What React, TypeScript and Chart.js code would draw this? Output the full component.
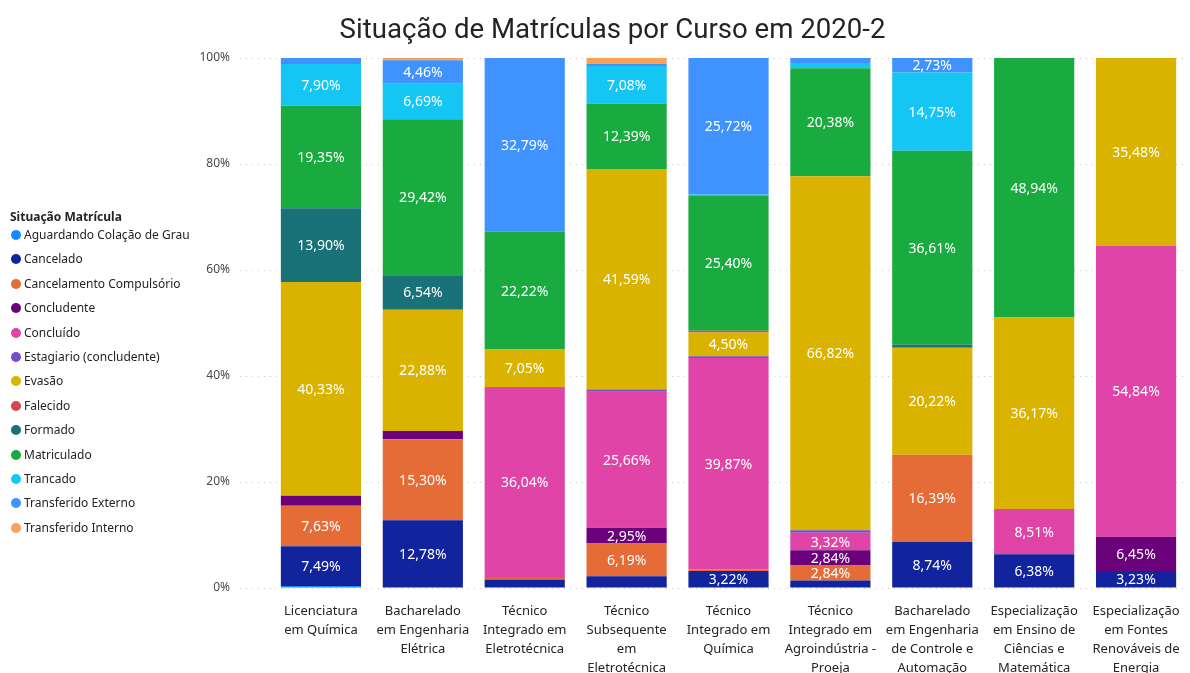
import React, { useEffect, useRef } from "react";
import { Chart, registerables } from "chart.js";

Chart.register(...registerables);

const courseLabels: string[][] = [
  ["Licenciatura", "em Química"],
  ["Bacharelado", "em Engenharia", "Elétrica"],
  ["Técnico", "Integrado em", "Eletrotécnica"],
  ["Técnico", "Subsequente", "em", "Eletrotécnica"],
  ["Técnico", "Integrado em", "Química"],
  ["Técnico", "Integrado em", "Agroindústria -", "Proeja"],
  ["Bacharelado", "em Engenharia", "de Controle e", "Automação"],
  ["Especialização", "em Ensino de", "Ciências e", "Matemática"],
  ["Especialização", "em Fontes", "Renováveis de", "Energia"],
];

const aguardando = [0.38, 0, 0, 0, 0, 0, 0, 0, 0];
const cancelado = [7.49, 12.78, 1.6, 2.21, 3.22, 1.42, 8.74, 6.38, 3.23];
const cancelamentoCompulsorio = [7.63, 15.3, 0.3, 6.19, 0.32, 2.84, 16.39, 0, 0];
const concludente = [1.91, 1.53, 0, 2.95, 0, 2.84, 0, 0, 6.45];
const concluido = [0, 0, 36.04, 25.66, 39.87, 3.32, 0, 8.51, 54.84];
const estagiario = [0, 0, 0, 0.44, 0.32, 0.47, 0, 0, 0];
const evasao = [40.33, 22.88, 7.05, 41.59, 4.5, 66.82, 20.22, 36.17, 35.48];
const falecido = [0, 0, 0, 0, 0.32, 0, 0, 0, 0];
const formado = [13.9, 6.54, 0, 0, 0, 0, 0.55, 0, 0];
const matriculado = [19.35, 29.42, 22.22, 12.39, 25.4, 20.38, 36.61, 48.94, 0];
const trancado = [7.9, 6.69, 0, 7.08, 0.32, 0.95, 14.75, 0, 0];
const transferidoExterno = [1.11, 4.46, 32.79, 0.38, 25.72, 0.95, 2.73, 0, 0];
const transferidoInterno = [0, 0.4, 0, 1.11, 0, 0, 0, 0, 0];

const seriesNames = [
  "Aguardando Colação de Grau",
  "Cancelado",
  "Cancelamento Compulsório",
  "Concludente",
  "Concluído",
  "Estagiario (concludente)",
  "Evasão",
  "Falecido",
  "Formado",
  "Matriculado",
  "Trancado",
  "Transferido Externo",
  "Transferido Interno",
];
const seriesValues = [
  aguardando,
  cancelado,
  cancelamentoCompulsorio,
  concludente,
  concluido,
  estagiario,
  evasao,
  falecido,
  formado,
  matriculado,
  trancado,
  transferidoExterno,
  transferidoInterno,
];
const seriesColors = [
  "#118DFF",
  "#12239E",
  "#E66C37",
  "#6B007B",
  "#E044A7",
  "#744EC2",
  "#D9B300",
  "#D64550",
  "#197278",
  "#1AAB40",
  "#15C6F4",
  "#4092FF",
  "#FFA058",
];
const yTicks = [0, 20, 40, 60, 80, 100];

const fmt = (v: number) => v.toFixed(2).replace(".", ",") + "%";

const dataLabelPlugin = {
  id: "segLabels",
  afterDatasetsDraw(chart: any) {
    const ctx = chart.ctx;
    ctx.save();
    ctx.font = '14px "Noto Sans"';
    ctx.fillStyle = "#FFFFFF";
    ctx.textAlign = "center";
    ctx.textBaseline = "middle";
    chart.data.datasets.forEach((ds: any, di: number) => {
      const meta = chart.getDatasetMeta(di);
      meta.data.forEach((el: any, i: number) => {
        const v = ds.data[i];
        if (v < 2.5) return;
        const p = el.getProps(["x", "y", "base"], true);
        ctx.fillText(fmt(v), p.x, (p.y + p.base) / 2 + 1);
      });
    });
    ctx.restore();
  },
};

export default function App() {
  const ref = useRef<HTMLCanvasElement>(null);
  useEffect(() => {
    if (!ref.current) return;
    const chart = new Chart(ref.current, {
      type: "bar",
      data: {
        labels: courseLabels,
        datasets: seriesNames.map((n, i) => ({
          label: n,
          data: seriesValues[i],
          backgroundColor: seriesColors[i],
          borderWidth: 0,
          categoryPercentage: 1,
          barPercentage: 0.787,
        })),
      },
      options: {
        responsive: false,
        animation: false,
        layout: { padding: { left: 38, right: 3, top: 0, bottom: 0 } },
        plugins: {
          legend: { display: false },
          tooltip: { enabled: false },
          title: {
            display: true,
            text: "Situação de Matrículas por Curso em 2020-2",
            color: "#252423",
            font: { family: "Roboto", size: 27.6, weight: "normal" },
            padding: { top: 14.5, bottom: 10.4 },
          },
        },
        scales: {
          x: {
            stacked: true,
            grid: { display: false },
            border: { display: false },
            ticks: {
              color: "#252423",
              font: { family: "Noto Sans", size: 13, lineHeight: 1.46 },
              padding: 6,
              maxRotation: 0,
              autoSkip: false,
            },
            afterFit: (s: any) => {
              s.height = 85;
            },
          },
          y: {
            stacked: true,
            min: 0,
            max: 100,
            afterBuildTicks: (s: any) => {
              s.ticks = yTicks.map((v) => ({ value: v }));
            },
            grid: {
              color: "#C8C6C4",
              lineWidth: 1,
              drawTicks: true,
              tickLength: 30,
              tickColor: "#C8C6C4",
              tickBorderDash: [1, 5],
            },
            border: { display: false, dash: [1, 5] },
            ticks: {
              color: "#4a4a4a",
              font: { family: "Noto Sans", size: 12 },
              padding: 10,
              callback: (v: any) => v + "%",
            },
            afterFit: (s: any) => {
              s.width = 232;
            },
          },
        },
      },
      plugins: [dataLabelPlugin],
    });
    return () => chart.destroy();
  }, []);

  return (
    <div
      style={{
        position: "fixed",
        left: 0,
        top: 0,
        width: 1190,
        height: 673,
        background: "#fff",
        overflow: "hidden",
      }}
    >
      <canvas ref={ref} width={1190} height={673} style={{ display: "block" }} />
      <div
        style={{
          position: "absolute",
          left: 10,
          top: 208,
          fontFamily: '"Noto Sans"',
          color: "#252423",
        }}
      >
        <div style={{ fontSize: 12, fontWeight: "bold", height: 18, lineHeight: "18px" }}>
          Situação Matrícula
        </div>
        {seriesNames.map((n, i) => (
          <div
            key={n}
            style={{
              position: "absolute",
              top: 27 + i * 24.4 - 9,
              left: 0,
              height: 18,
              lineHeight: "18px",
              whiteSpace: "nowrap",
              fontSize: 12,
              display: "flex",
              alignItems: "center",
            }}
          >
            <span
              style={{
                display: "inline-block",
                width: 10,
                height: 10,
                borderRadius: 5,
                background: seriesColors[i],
                marginRight: 3,
                marginLeft: 1,
              }}
            />
            {n}
          </div>
        ))}
      </div>
    </div>
  );
}
